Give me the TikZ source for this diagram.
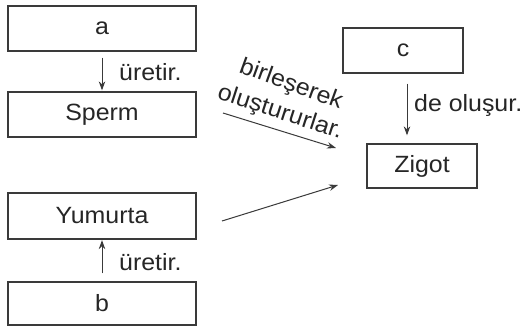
\documentclass[tikz,border=0pt]{standalone}
\usepackage{fontspec}
\setmainfont{Liberation Sans}[FakeStretch=1.06]
\usetikzlibrary{arrows.meta}
\definecolor{ink}{HTML}{262626}
\definecolor{linec}{HTML}{3A3A3A}
\begin{document}
\begin{tikzpicture}[x=1pt,y=-1pt,
  box/.style={draw=linec, line width=1.3pt, text=ink, inner sep=0pt,
    font=\fontsize{23.5}{27}\selectfont},
  lbl/.style={text=ink, inner sep=0pt, font=\fontsize{23.5}{27}\selectfont},
  arr/.style={draw=linec, line width=1pt, -{Stealth[length=9pt,width=6.5pt]}}]
\useasboundingbox (0,0) rectangle (523,327);
\fill[white] (0,0) rectangle (523,327);
\node[box, minimum width=188pt, minimum height=45pt] (a) at (102,28.5) {a};
\node[box, minimum width=188pt, minimum height=45pt] (sperm) at (102,114.5) {Sperm};
\node[box, minimum width=188pt, minimum height=46pt] (yum) at (102,216) {Yumurta};
\node[box, minimum width=188pt, minimum height=43pt] (b) at (102,303.5) {b};
\node[box, minimum width=120pt, minimum height=45pt] (c) at (403,50.5) {c};
\node[box, minimum width=110pt, minimum height=44pt] (zigot) at (422,166) {Zigot};
\draw[arr, shorten <=6pt, shorten >=1pt] (a.south) -- (sperm.north);
\draw[arr, shorten <=8pt, shorten >=0.5pt] (b.north) -- (yum.south);
\draw[arr, shorten <=10pt, shorten >=8pt] ([xshift=4pt]c.south) -- ([xshift=4pt]c.south |- zigot.north);
\coordinate (s1) at (223,113);
\coordinate (e1) at (336,148);
\coordinate (s2) at (222,221);
\coordinate (e2) at (338,185);
\draw[arr] (s1) -- (e1);
\draw[arr] (s2) -- (e2);
\node[lbl, anchor=base west] (l1) at (119,80) {üretir.};
\node[lbl, anchor=base west] (l2) at (119,270) {üretir.};
\node[lbl, anchor=base west] (l3) at (414,111) {de oluşur.};
\node[lbl, rotate=-20] (l4) at (291,85) {birleşerek};
\node[lbl, rotate=-18] (l5) at (280,113) {oluştururlar.};
\end{tikzpicture}
\end{document}
